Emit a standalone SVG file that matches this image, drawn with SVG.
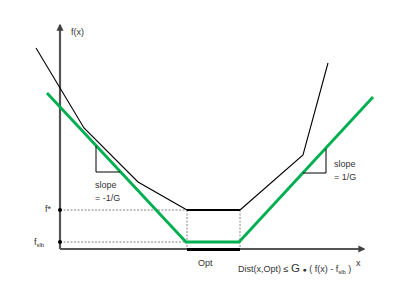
<svg xmlns="http://www.w3.org/2000/svg" width="400" height="300" viewBox="0 0 400 300">
<defs>
<marker id="arr" viewBox="0 0 10 10" refX="8" refY="5" markerWidth="3.2" markerHeight="3.2" orient="auto" markerUnits="strokeWidth">
<path d="M0,0 L10,5 L0,10 z" fill="#404040"/>
</marker>
<style>
text{font-family:"Liberation Sans","DejaVu Sans",sans-serif;font-size:9px;fill:#333}
.axis{stroke:#555;stroke-width:2.2;fill:none}
.dash{stroke:#666;stroke-width:0.8;stroke-dasharray:2,1.5;fill:none}
.blk{stroke:#000;stroke-width:1.1;fill:none}
.grn{stroke:#00b050;stroke-width:2.8;fill:none;stroke-linejoin:miter}
.tri{stroke:#000;stroke-width:1;fill:none}
</style>
</defs>
<rect width="400" height="300" fill="#fff"/>
<g id="guides">
<path class="dash" d="M60,210 H187 M60,242 H186 M187,210 V249 M240,210 V249"/>
</g>
<g id="axes">
<path class="axis" d="M60,249 V25" marker-end="url(#arr)"/>
<path class="axis" d="M60,249 H364" marker-end="url(#arr)"/>
<circle cx="60" cy="210" r="2" fill="#000"/>
<circle cx="60" cy="242" r="2" fill="#000"/>
</g>
<g id="curves">
<path class="blk" d="M36,48 L84,128 L138,182 L187,210 M240,210 L303,155 L328,63"/>
<path d="M187,210 H240" stroke="#000" stroke-width="2" fill="none"/>
<path d="M187,249.5 H240" stroke="#000" stroke-width="3" fill="none"/>
<path class="grn" d="M47,93 L186,242 H239 L373,97"/>
</g>
<g id="slopes">
<path class="tri" d="M96,146 V172 H120"/>
<path class="tri" d="M326,149 V173 H303"/>
</g>
<g id="labels">
<text x="71" y="35">f(x)</text>
<text x="45" y="212">f*</text>
<text x="34" y="245">f<tspan font-size="6" dy="1.5">slb</tspan></text>
<text x="95" y="188">slope</text>
<text x="95" y="201">= -1/G</text>
<text x="334" y="167">slope</text>
<text x="334" y="180">= 1/G</text>
<text x="198" y="266">Opt</text>
<text x="356" y="266">x</text>
<text x="238" y="272">Dist(x,Opt) ≤  <tspan font-size="11.5">G</tspan> <tspan font-size="7">●</tspan> ( f(x) - f<tspan font-size="6" dy="1.5">slb</tspan><tspan dy="-1.5"> )</tspan></text>
</g>
</svg>
